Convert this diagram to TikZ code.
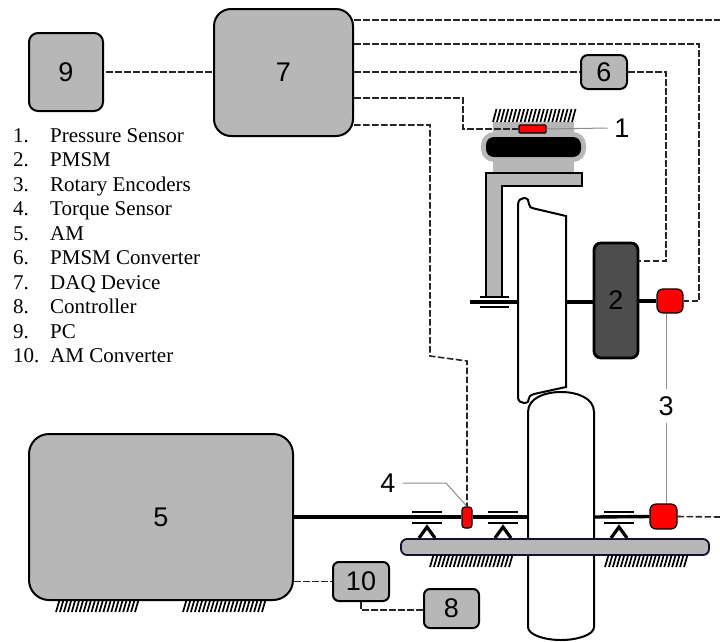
\documentclass[tikz,border=0pt]{standalone}
\usepackage{fontspec}
\setmainfont{Liberation Serif}
\setsansfont{Liberation Sans}
\usetikzlibrary{arrows.meta,positioning}
\definecolor{partgray}{RGB}{183,183,183}
\definecolor{motorgray}{RGB}{77,77,77}
\definecolor{platenavy}{RGB}{16,16,48}

% row of slanted ground hatches, left end and top given
\newcommand{\groundhatch}[3]{%
  \foreach \k in {0,...,20} {
    \draw[line width=1.7pt] ({#1+\k*3.95},{#2+#3}) -- ({#1+\k*3.95+3.5},#2);
  }
}
% support: two bars and a small triangle under them
\newcommand{\bearingmark}[1]{%
  \draw[line width=2.6pt] (#1-15,512) -- (#1+15,512);
  \draw[line width=2.6pt] (#1-15,523) -- (#1+15,523);
  \draw[line width=3.2pt,fill=white] (#1-8,538) -- (#1,527) -- (#1+8,538);
}

\begin{document}
\begin{tikzpicture}[
    x=1pt,y=-1pt,
    unit/.style={draw=black,line width=2pt,fill=partgray,rounded corners=#1,
                 font=\sffamily\fontsize{27}{27}\selectfont,inner sep=0pt},
    unit/.default=9pt,
    sensor/.style={draw=black,line width=1.2pt,fill=red,inner sep=0pt},
    sig/.style={line width=1.6pt,draw=black!85,dash pattern=on 6.5pt off 2.5pt},
    lead/.style={draw=black!45,line width=1pt},
    shaft/.style={line width=3.4pt},
    outline/.style={line width=2pt},
    tag/.style={font=\sffamily\fontsize{27}{27}\selectfont,inner sep=0pt,outer sep=7pt},
    legend/.style={font=\fontsize{21}{21}\selectfont,anchor=base west,inner sep=0pt}
  ]
  \useasboundingbox (0,0) rectangle (720,641);

  % fixed end points
  \coordinate (edgeT) at (720,20);
  \coordinate (edgeB) at (720,517);
  \coordinate (wheelL) at (518,302);
  \coordinate (wheelR) at (566,302);
  \coordinate (rollL) at (528,517);
  \coordinate (rollR) at (594,517);

  % roller and plate
  \draw[outline,fill=white] (528,627) -- (528,412) .. controls (528,398) and (545,392) .. (561,392)
    .. controls (577,392) and (594,398) .. (594,412) -- (594,627)
    .. controls (594,635) and (577,640) .. (561,640) .. controls (545,640) and (528,635) .. (528,627) -- cycle;
  \node[draw=platenavy,line width=1.8pt,fill=partgray,rounded corners=6pt,minimum width=308pt,minimum height=16pt,inner sep=0pt] (plate) at (555,547) {};

  % air spring
  \fill[partgray] (493,122) rectangle (574,173);
  \node[fill=partgray,rounded corners=13pt,minimum width=105pt,minimum height=30pt,inner sep=0pt] (bellows) at (533.5,147) {};
  \node[fill=black,rounded corners=8pt,minimum width=95pt,minimum height=20pt,inner sep=0pt] (bellowsin) at (533.5,147) {};
  \groundhatch{493}{109}{13}
  \draw[outline,fill=partgray] (486,173) -- (582,173) -- (582,185.5) -- (502,185.5) -- (502,297) -- (486,297) -- cycle;
  \draw[line width=2.2pt] (480,297) -- (509,297);
  \draw[line width=2.2pt] (480,307) -- (509,307);

  % wheel
  \draw[outline,fill=white] (518,205) .. controls (518,200) and (521,198) .. (524,198)
    .. controls (528,198) and (529,201) .. (529,204) .. controls (529,207) and (531,208) .. (534,208.5)
    -- (566,216) -- (566,387) -- (534,394) .. controls (531,395) and (529,396) .. (529,398)
    .. controls (529,401) and (528,403) .. (524,403) .. controls (521,403) and (518,401) .. (518,397) -- cycle;

  % units
  \node[unit] (pc) at (66,72) [minimum width=74pt,minimum height=78pt] {9};
  \node[unit=17pt] (daq) at (283.5,72.5) [minimum width=139pt,minimum height=127pt] {7};
  \node[unit=7pt] (conv) at (604,72) [minimum width=46pt,minimum height=34pt] {6};
  \node[unit=20pt] (am) at (161,517) [minimum width=264pt,minimum height=166pt] {5};
  \node[unit=6pt] (amconv) at (361,581.5) [minimum width=56pt,minimum height=39pt] {10};
  \node[unit=6pt] (ctrl) at (451.5,608.5) [minimum width=55pt,minimum height=39pt] {8};
  \node[draw=black,line width=2.8pt,fill=motorgray,rounded corners=7pt,minimum width=44pt,minimum height=115pt,
        font=\sffamily\fontsize{27}{27}\selectfont,inner sep=0pt] (pmsm) at (616,300.5) {2};

  % sensors
  \node[sensor,rounded corners=1pt,minimum width=27pt,minimum height=8pt] (press) at (532.5,129) {};
  \node[sensor,rounded corners=6pt,minimum width=26pt,minimum height=24pt] (encA) at (670,301) {};
  \node[sensor,rounded corners=6pt,minimum width=27pt,minimum height=25pt] (encB) at (663.5,516.5) {};
  \node[sensor,rounded corners=3pt,minimum width=10pt,minimum height=21pt] (torque) at (467,517.5) {};

  % tags
  \node[tag] (tagA) at (622,128) {1};
  \node[tag] (tagB) at (666,406) {3};
  \node[tag] (tagC) at (388,483) {4};
  \draw[lead] (press.east) -- (tagA.west);
  \draw[lead] (encA.south -| tagB) -- (tagB.north);
  \draw[lead] (tagB.south) -- (encB.north -| tagB);
  \draw[lead] (tagC.east) -- (446,483) -- (torque.north);

  % shafts
  \draw[shaft] (470,302) -- (wheelL);
  \draw[shaft] (wheelR) -- (pmsm.west |- wheelR);
  \draw[shaft] (pmsm.east |- encA) -- (encA.west);
  \draw[shaft] (am.east |- rollL) -- (torque.west |- rollL);
  \draw[shaft] (torque.east |- rollL) -- (rollL);
  \draw[shaft] (rollR) -- (encB.west);

  % signal lines
  \draw[sig] (pc.east) ++(2,0) -- (daq.west |- pc);
  \draw[sig] (daq.east |- edgeT) -- (edgeT);
  \draw[sig] (daq.east |- 0,44) -- (699,44) -- (699,301) -- (encA.east);
  \draw[sig] (daq.east |- conv) -- (conv.west);
  \draw[sig] (conv.east) -- (666,72) -- (666,261) -- (pmsm.east |- 0,261);
  \draw[sig] (daq.east |- 0,98) -- (463,98) -- (463,129) -- (press.west);
  \draw[sig] (daq.east |- 0,125) -- (430,125) -- (430,356) -- (467,361) -- (torque.north);
  \draw[sig] (encB.east) -- (edgeB);
  \draw[sig] (am.east |- amconv) -- (amconv.west);
  \draw[sig] (amconv.south) -- (amconv.south |- 0,610) -- (ctrl.west |- 0,610);

  % supports and ground
  \bearingmark{427}
  \bearingmark{503}
  \bearingmark{619}
  \groundhatch{430}{555}{12}
  \groundhatch{605}{555}{12}
  \groundhatch{56}{600}{12}
  \groundhatch{183}{600}{12}

  % legend
  \foreach \n/\t [count=\i from 0] in {1./Pressure Sensor,2./PMSM,3./Rotary Encoders,4./Torque Sensor,5./AM,
      6./PMSM Converter,7./DAQ Device,8./Controller,9./PC,10./AM Converter} {
    \node[legend] (num\i) at (13,{142+\i*24.5}) {\n};
    \node[legend] (item\i) at (50,{142+\i*24.5}) {\t};
  }
\end{tikzpicture}
\end{document}
